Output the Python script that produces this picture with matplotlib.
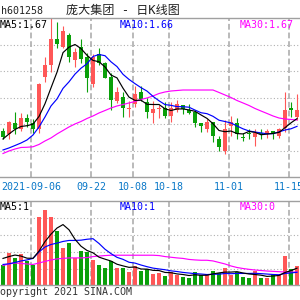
import matplotlib
matplotlib.use('Agg')
import matplotlib.pyplot as plt
from matplotlib.lines import Line2D
import numpy as np

# ---------------- data ----------------
code_label = "h601258"
title_text = "庞大集团 - 日K线图"
tick_labels = ['2021-09-06', '09-22', '10-08', '10-18', '11-01', '11-15']
tick_index = [5, 15, 22, 28, 38, 48]

opens = [1.6554, 1.6507, 1.6664, 1.6578, 1.6731, 1.6660, 1.6578, 1.7317, 1.7492, 1.7864,
         1.7754, 1.7928, 1.7564, 1.7745, 1.7611, 1.7221, 1.7645, 1.7517, 1.7325, 1.6978,
         1.7040, 1.6860, 1.6931, 1.7102, 1.6960, 1.6802, 1.6860, 1.6874, 1.6768, 1.6850,
         1.6921, 1.6850, 1.6817, 1.6668, 1.6578, 1.6674, 1.6435, 1.6264, 1.6625, 1.6660,
         1.6460, 1.6514, 1.6468, 1.6517, 1.6502, 1.6550, 1.6482, 1.6588, 1.6874, 1.6754]
highs = [1.6588, 1.6692, 1.6817, 1.6802, 1.6797, 1.6721, 1.7231, 1.7611, 1.8157, 1.8102,
         1.8050, 1.7950, 1.7735, 1.7864, 1.7660, 1.7650, 1.7731, 1.7535, 1.7374, 1.7182,
         1.7111, 1.6978, 1.7197, 1.7197, 1.7017, 1.6978, 1.6921, 1.6960, 1.6960, 1.6992,
         1.6921, 1.6931, 1.6850, 1.6668, 1.6721, 1.6674, 1.6482, 1.6707, 1.6768, 1.6731,
         1.6517, 1.6578, 1.6578, 1.6578, 1.6578, 1.6550, 1.6597, 1.7111, 1.6960, 1.7074]
lows = [1.6435, 1.6435, 1.6502, 1.6550, 1.6611, 1.6517, 1.6517, 1.7250, 1.7392, 1.7731,
        1.7735, 1.7535, 1.7464, 1.7517, 1.7102, 1.7182, 1.7492, 1.7300, 1.6850, 1.6945,
        1.6754, 1.6754, 1.6897, 1.6978, 1.6731, 1.6660, 1.6731, 1.6731, 1.6682, 1.6825,
        1.6792, 1.6792, 1.6611, 1.6531, 1.6540, 1.6388, 1.6264, 1.6217, 1.6482, 1.6435,
        1.6407, 1.6435, 1.6340, 1.6435, 1.6454, 1.6431, 1.6454, 1.6540, 1.6754, 1.6707]
closes = [1.6468, 1.6674, 1.6578, 1.6731, 1.6674, 1.6578, 1.7221, 1.7492, 1.7864, 1.7792,
          1.7978, 1.7611, 1.7682, 1.7574, 1.7311, 1.7611, 1.7517, 1.7311, 1.6992, 1.7111,
          1.6874, 1.6882, 1.7074, 1.7007, 1.6817, 1.6860, 1.6882, 1.6768, 1.6882, 1.6931,
          1.6860, 1.6811, 1.6668, 1.6625, 1.6682, 1.6482, 1.6325, 1.6581, 1.6674, 1.6502,
          1.6454, 1.6504, 1.6517, 1.6502, 1.6550, 1.6502, 1.6578, 1.6850, 1.6850, 1.6850]

# moving-average values before enough history is available
ma5_head = [1.6435, 1.6507, 1.6571, 1.6614]
ma10_head = [1.6278, 1.6307, 1.6342, 1.6378, 1.6421, 1.6492, 1.6607, 1.6750, 1.6907]
ma30 = [1.6228, 1.6264, 1.6292, 1.6314, 1.6317, 1.6324, 1.6357, 1.6407, 1.6450, 1.6507,
        1.6557, 1.6607, 1.6650, 1.6685, 1.6728, 1.6764, 1.6807, 1.6842, 1.6878, 1.6907,
        1.6928, 1.6950, 1.6971, 1.7000, 1.7021, 1.7050, 1.7085, 1.7107, 1.7121, 1.7128,
        1.7135, 1.7135, 1.7135, 1.7135, 1.7135, 1.7135, 1.7100, 1.7064, 1.7028, 1.6985,
        1.6950, 1.6914, 1.6871, 1.6835, 1.6800, 1.6764, 1.6735, 1.6721, 1.6714, 1.6707]

volumes = [1.23, 1.92, 1.63, 1.86, 1.43, 1.19, 4.07, 4.46, 4.07, 3.25,
           2.22, 2.52, 1.63, 2.02, 1.98, 1.52, 1.23, 1.03, 1.46, 1.03,
           1.03, 0.79, 1.13, 0.87, 0.99, 0.67, 0.73, 0.57, 0.79, 0.63,
           0.49, 0.43, 0.79, 0.63, 0.67, 0.87, 0.73, 1.03, 0.63, 0.79,
           0.49, 0.43, 0.87, 0.43, 0.43, 0.60, 0.60, 1.76, 0.97, 1.17]
vol_ma5_head = [1.60, 1.71, 1.80, 1.74]
vol_ma10_head = [1.24, 1.28, 1.36, 1.45, 1.51, 1.60, 1.98, 2.28, 2.43]
vol_ma30 = [1.18, 1.27, 1.33, 1.30, 1.27, 1.24, 1.33, 1.42, 1.51, 1.57,
            1.60, 1.63, 1.63, 1.63, 1.65, 1.71, 1.74, 1.77, 1.79, 1.79,
            1.79, 1.79, 1.79, 1.79, 1.79, 1.79, 1.77, 1.71, 1.67, 1.63,
            1.60, 1.54, 1.51, 1.49, 1.49, 1.45, 1.36, 1.27, 1.15, 1.06,
            1.00, 0.95, 0.91, 0.88, 0.85, 0.83, 0.81, 0.79, 0.79, 0.79]

price_labels = ["MA5:1.67", "MA10:1.66", "MA30:1.67"]
volume_labels = ["MA5:1", "MA10:1", "MA30:0"]
copyright_text = "opyright 2021 SINA.COM"


def moving_average(vals, n, head):
    out = list(head)
    for i in range(len(head), len(vals)):
        out.append(float(np.mean(vals[i - n + 1:i + 1])))
    return out


ma5 = moving_average(closes, 5, ma5_head)
ma10 = moving_average(closes, 10, ma10_head)
vol_ma5 = moving_average(volumes, 5, vol_ma5_head)
vol_ma10 = moving_average(volumes, 10, vol_ma10_head)

# ---------------- styling ----------------
RED = '#ff5757'
GREEN = '#0aa00a'
BLUE = '#0000ff'
MAGENTA = '#ff00ff'
DATE_C = '#0a78c8'
BORDER = '#a0a0a0'
GRID = '#b0b0b0'
MONO = ['DejaVu Sans Mono']

W = H = 300.0
fig = plt.figure(figsize=(3, 3), dpi=100)
fig.patch.set_facecolor('white')


def fx(px):
    return px / W


def fy(py):
    return 1 - py / H


P_TOP, P_BOT = 1.8164, 1.5892
ax_p = fig.add_axes([0, fy(177), 1, (177 - 18) / H])
ax_v = fig.add_axes([0, fy(285.3), 1, (285.3 - 201.3) / H])

n = len(closes)
x = np.arange(n)
for ax in (ax_p, ax_v):
    ax.set_xlim(-0.5, n - 0.5)
    ax.axis('off')
    for k in tick_index:
        ax.axvline(k - 0.3, color='#b4b4b4', lw=1.3, ls=(0, (3.2, 1.6)), zorder=1)

ax_p.set_ylim(P_BOT, P_TOP)
ax_v.set_ylim(0, 5)
for i in range(1, 6):
    ax_p.axhline(P_BOT + i * (P_TOP - P_BOT) / 6, color=GRID, lw=0.8, ls=(0, (1, 2)), zorder=1)
for i in range(1, 5):
    ax_v.axhline(i, color=GRID, lw=0.8, ls=(0, (1, 2)), zorder=1)

# candles
min_body = 0.0012
for k in range(n):
    o, h, l, c = opens[k], highs[k], lows[k], closes[k]
    col = RED if c >= o else GREEN
    ax_p.vlines(k, l, h, color=col, lw=0.8, zorder=3)
    body = max(abs(c - o), min_body)
    ax_p.bar(k, body, bottom=min(o, c), width=0.72, color=col, lw=0, zorder=3)
    ax_v.bar(k, volumes[k], width=0.74, color=col, lw=0, zorder=3)

ax_p.plot(x, ma30, color=MAGENTA, lw=0.85, zorder=4)
ax_p.plot(x, ma10, color=BLUE, lw=0.85, zorder=4)
ax_p.plot(x, ma5, color='black', lw=0.85, zorder=4)
ax_v.plot(x, vol_ma30, color=MAGENTA, lw=0.85, zorder=4)
ax_v.plot(x, vol_ma10, color=BLUE, lw=0.85, zorder=4)
ax_v.plot(x, vol_ma5, color='black', lw=0.85, zorder=4)

# border lines
for py in (18, 177, 201.3, 285.3):
    fig.add_artist(Line2D([0, 1], [fy(py), fy(py)], transform=fig.transFigure,
                          color=BORDER, lw=1.0))

# texts
fs = 7.2
fig.text(fx(0.5), fy(14), code_label, family=MONO, fontsize=fs, color='#222222',
         ha='left', va='baseline')
fig.text(fx(123), fy(13.5), title_text, family=['DejaVu Sans Mono', 'Noto Sans CJK SC'],
         fontsize=8.7, color='#222222', ha='center', va='baseline')

label_cols = ['black', BLUE, MAGENTA]
label_x = [0, 120, 240]
for t, c, lx in zip(price_labels, label_cols, label_x):
    fig.text(fx(lx), fy(28.3), t, family=MONO, fontsize=fs, color=c, ha='left', va='baseline')
for t, c, lx in zip(volume_labels, label_cols, label_x):
    fig.text(fx(lx), fy(209.7), t, family=MONO, fontsize=fs, color=c, ha='left', va='baseline')

for k, lab in zip(tick_index, tick_labels):
    xpix = (k - 0.3 + 0.5) * 6
    fig.text(fx(xpix), fy(190), lab, family=MONO, fontsize=fs, color=DATE_C,
             ha='center', va='baseline')

fig.text(fx(0), fy(295), copyright_text, family=MONO, fontsize=fs, color='#333333',
         ha='left', va='baseline')

fig.savefig('out.png', dpi=100, facecolor='white')
